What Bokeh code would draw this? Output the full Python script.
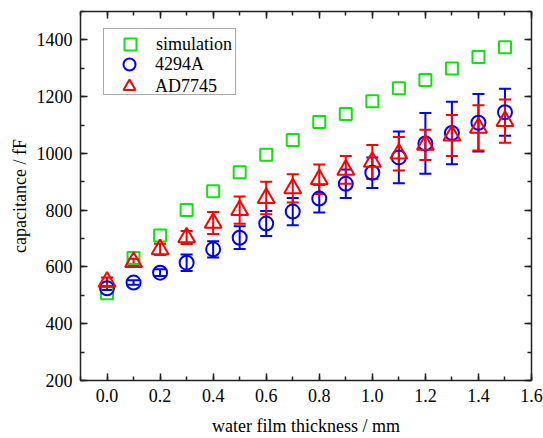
from bokeh.plotting import figure
from bokeh.models import (ColumnDataSource, Whisker, TeeHead, LinearAxis, SingleIntervalTicker,
                          PrintfTickFormatter, CustomJSTickFormatter, Legend, LegendItem, Range1d)
from bokeh.embed import file_html
from bokeh.resources import INLINE

# ---- data ----
thickness = [0.0, 0.1, 0.2, 0.3, 0.4, 0.5, 0.6, 0.7, 0.8, 0.9, 1.0, 1.1, 1.2, 1.3, 1.4, 1.5]
simulation = [507, 632, 711, 801, 867, 934, 995, 1047, 1111, 1139, 1184, 1230, 1259, 1299, 1340, 1374]
a4294 = [525, 545, 580, 615, 662, 703, 753, 795, 841, 893, 932, 986, 1035, 1072, 1108, 1145]
a4294_err = [6, 8, 12, 29, 29, 40, 44, 48, 49, 50, 54, 91, 107, 110, 101, 83]
ad7745 = [548, 617, 662, 704, 755, 800, 843, 877, 909, 942, 970, 999, 1030, 1063, 1090, 1114]
ad7745_err = [15, 12, 20, 23, 39, 48, 57, 50, 52, 49, 60, 59, 53, 72, 80, 76]
series_names = ["simulation", "4294A", "AD7745"]
x_label = "water film thickness / mm"
y_label = "capacitance / fF"

FONT = "Liberation Serif"
GREEN = "#11e011"
BLUE = "#0000ff"
RED = "#ff0000"
AXC = "#222222"

src = ColumnDataSource(dict(
    x=thickness, sim=simulation,
    b=a4294, b_lo=[v - e for v, e in zip(a4294, a4294_err)], b_hi=[v + e for v, e in zip(a4294, a4294_err)],
    r=ad7745, r_lo=[v - e for v, e in zip(ad7745, ad7745_err)], r_hi=[v + e for v, e in zip(ad7745, ad7745_err)],
))

p = figure(width=543, height=438, output_backend="svg", toolbar_location=None,
           x_range=Range1d(-0.1, 1.6), y_range=Range1d(200, 1500),
           min_border_left=80, min_border_right=12, min_border_top=11, min_border_bottom=58)
p.outline_line_color = None
p.xgrid.visible = False
p.ygrid.visible = False
p.background_fill_color = "white"
p.border_fill_color = "white"

def style_axis(ax):
    ax.axis_line_color = AXC
    ax.axis_line_width = 1.5
    ax.major_tick_line_color = AXC
    ax.minor_tick_line_color = AXC
    ax.major_tick_line_width = 1.5
    ax.minor_tick_line_width = 1.5
    ax.major_tick_in = 7
    ax.major_tick_out = 0
    ax.minor_tick_in = 4
    ax.minor_tick_out = 0
    ax.major_label_text_font = FONT
    ax.major_label_text_color = "black"
    ax.major_label_text_font_size = "18px"

xt = SingleIntervalTicker(interval=0.2, num_minor_ticks=2)
yt = SingleIntervalTicker(interval=200, num_minor_ticks=2)
xf = PrintfTickFormatter(format="%.1f")
yf = PrintfTickFormatter(format="%d")
blank = CustomJSTickFormatter(code="return ''")

p.xaxis.ticker = xt
p.xaxis.formatter = xf
p.yaxis.ticker = yt
p.yaxis.formatter = yf
for ax in p.xaxis + p.yaxis:
    style_axis(ax)
p.xaxis.major_label_standoff = 8
p.yaxis.major_label_standoff = 8
p.xaxis.axis_label = x_label
p.yaxis.axis_label = y_label
for ax in p.xaxis + p.yaxis:
    ax.axis_label_text_font = FONT
    ax.axis_label_text_font_size = "18px"
    ax.axis_label_text_font_style = "normal"
    ax.axis_label_text_color = "black"
p.xaxis.axis_label_standoff = 11
p.yaxis.axis_label_standoff = 4

top = LinearAxis(ticker=xt, formatter=blank)
style_axis(top)
top.major_label_standoff = 0
p.add_layout(top, "above")
right = LinearAxis(ticker=yt, formatter=blank)
style_axis(right)
right.major_label_standoff = 0
p.add_layout(right, "right")

# simulation
r_sim = p.scatter("x", "sim", source=src, marker="square", size=12,
                  fill_color=None, line_color=GREEN, line_width=2)

# 4294A
p.add_layout(Whisker(source=src, base="x", lower="b_lo", upper="b_hi", dimension="height",
                     line_color=BLUE, line_width=2,
                     lower_head=TeeHead(size=12, line_color=BLUE, line_width=2),
                     upper_head=TeeHead(size=12, line_color=BLUE, line_width=2)))
r_b = p.scatter("x", "b", source=src, marker="circle", size=14,
                fill_color=None, line_color=BLUE, line_width=2)

# AD7745
p.add_layout(Whisker(source=src, base="x", lower="r_lo", upper="r_hi", dimension="height",
                     line_color=RED, line_width=2,
                     lower_head=TeeHead(size=12, line_color=RED, line_width=2),
                     upper_head=TeeHead(size=12, line_color=RED, line_width=2)))
r_r = p.scatter("x", "r", source=src, marker="triangle", size=17,
                fill_color=None, line_color=RED, line_width=2)

common = dict(glyph_height=30, glyph_width=30, label_standoff=11, margin=0, spacing=0,
              label_text_font=FONT, label_text_font_size="18px", label_text_color="black")
# legend box (with first entry), plus two borderless rows stacked inside it
leg1 = Legend(items=[LegendItem(label=series_names[0], renderers=[r_sim])],
              location=(23, 285), padding=(11, 3, 0, 35),
              border_line_color="#555555", border_line_width=1,
              background_fill_color="white", background_fill_alpha=1.0, **common)
leg2 = Legend(items=[LegendItem(label=series_names[1], renderers=[r_b])],
              location=(34, 301), padding=0, border_line_color=None,
              background_fill_alpha=0.0, **common)
leg3 = Legend(items=[LegendItem(label=series_names[2], renderers=[r_r])],
              location=(34, 279), padding=0, border_line_color=None,
              background_fill_alpha=0.0, **common)
for lg in (leg1, leg2, leg3):
    p.add_layout(lg, "center")

open("out.html", "w").write(file_html(p, INLINE))
